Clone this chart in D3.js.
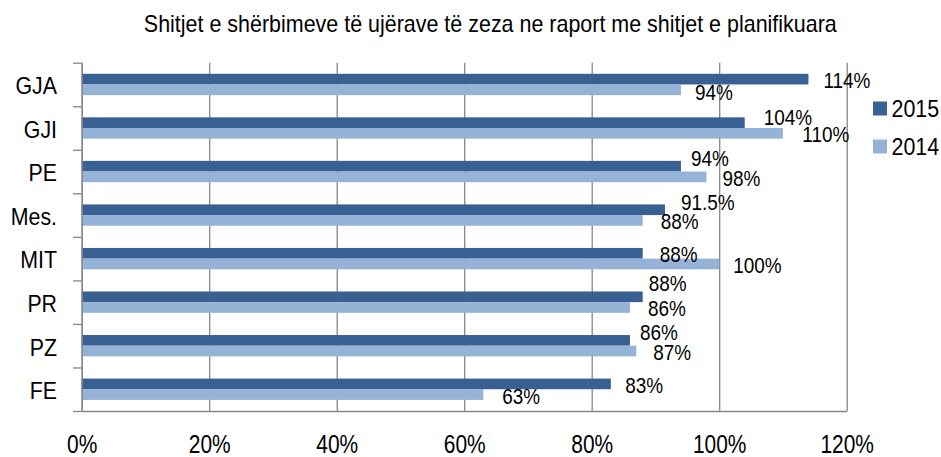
<!DOCTYPE html>
<html>
<head>
<meta charset="utf-8">
<script src="https://cdn.jsdelivr.net/npm/d3@7"></script>
<style>
  body { margin: 0; background: #fff; }
  text { font-family: "Liberation Sans", Arial, sans-serif; fill: #000; }
</style>
</head>
<body>
<div id="chart"></div>
<script>
// Chart data
const categories = ['GJA', 'GJI', 'PE', 'Mes.', 'MIT', 'PR', 'PZ', 'FE'];
const seriesNames = ['2015', '2014'];
const values2015 = [114, 104, 94, 91.5, 88, 88, 86, 83];
const values2014 = [94, 110, 98, 88, 100, 86, 87, 63];
const xTicks = [0, 20, 40, 60, 80, 100, 120];
const titleText = 'Shitjet e shërbimeve të ujërave të zeza ne raport me shitjet e planifikuara';

// hand placed label offsets (dx from bar end, dy from bar centre)
const labelOffsets2015 = [[15, 1], [19, -6], [10, -8], [16, -7.6], [17, 0.6], [6, -13.3], [10, -8], [14.5, 1.7]];
const labelOffsets2014 = [[14, 2.3], [19.4, 1], [16, 1], [18, 1], [14, 1.6], [18, 1], [17, 1], [19, 2]];

const colors = { '2015': '#386092', '2014': '#95B3D7' };
const gridColor = '#868686';

const width = 941, height = 457;
const plot = { left: 81.7, right: 846.7, top: 62.7, bottom: 411 };

// the source chart uses a narrow face, so squeeze text horizontally
function squeeze(sel, k) {
    sel.each(function() {
        const w = this.getComputedTextLength();
        d3.select(this).attr('textLength', w * k).attr('lengthAdjust', 'spacingAndGlyphs');
    });
}

const svg = d3.select('#chart').append('svg')
    .attr('width', width)
    .attr('height', height);

const x = d3.scaleLinear().domain([0, 120]).range([plot.left, plot.right]);
const y = d3.scaleBand().domain(categories).range([plot.top, plot.bottom])
    .paddingInner(0.51).paddingOuter(0.255);
const ySub = d3.scaleBand().domain(seriesNames).range([0, y.bandwidth()]);

// Title
svg.append('text')
    .attr('x', 490.3)
    .attr('y', 32.3)
    .attr('text-anchor', 'middle')
    .style('font-size', '24px')
    .text(titleText)
    .call(squeeze, 0.894);

// Vertical gridlines
svg.append('g')
    .attr('transform', `translate(0,${plot.bottom})`)
    .call(d3.axisBottom(x).tickValues(xTicks).tickSize(-(plot.bottom - plot.top)).tickFormat(''))
    .call(g => g.select('.domain').remove())
    .call(g => g.selectAll('line').attr('stroke', gridColor).attr('stroke-width', 1.3));

// Bars
const rows = categories.map((c, i) => ({ cat: c, i: i }));
const series = [
    { name: '2015', values: values2015, offsets: labelOffsets2015 },
    { name: '2014', values: values2014, offsets: labelOffsets2014 }
];

series.forEach(s => {
    svg.append('g').selectAll('rect')
        .data(rows)
        .join('rect')
        .attr('x', x(0))
        .attr('y', d => y(d.cat) + ySub(s.name))
        .attr('width', d => x(s.values[d.i]) - x(0))
        .attr('height', ySub.bandwidth())
        .attr('fill', colors[s.name]);
});

// Left axis: boundary ticks
const yIdx = d3.scaleLinear().domain([0, categories.length]).range([plot.top, plot.bottom]);
svg.append('g')
    .attr('transform', `translate(${plot.left},0)`)
    .call(d3.axisLeft(yIdx).tickValues(d3.range(categories.length + 1)).tickSize(8.7).tickSizeOuter(0).tickFormat(''))
    .call(g => g.select('.domain').attr('stroke', gridColor).attr('stroke-width', 1.3))
    .call(g => g.selectAll('line').attr('stroke', gridColor).attr('stroke-width', 1.3));

// Category labels
svg.append('g')
    .attr('transform', `translate(${plot.left},0)`)
    .call(d3.axisLeft(y).tickSize(0).tickPadding(24.7))
    .call(g => g.select('.domain').remove())
    .call(g => g.selectAll('text').attr('dy', '0.4em').style('font-size', '24.5px').attr('fill', '#000').call(squeeze, 0.87));

// Bottom axis line and labels
svg.append('g')
    .attr('transform', `translate(0,${plot.bottom})`)
    .call(d3.axisBottom(x).tickValues(xTicks).tickSize(0).tickPadding(24.2).tickFormat(d => d + '%'))
    .call(g => g.select('.domain').attr('stroke', gridColor).attr('stroke-width', 1.3))
    .call(g => g.selectAll('text').style('font-size', '25.5px').attr('fill', '#000').call(squeeze, 0.82));

// Data labels
series.forEach(s => {
    svg.append('g').selectAll('text')
        .data(rows)
        .join('text')
        .attr('x', d => x(s.values[d.i]) + s.offsets[d.i][0])
        .attr('y', d => y(d.cat) + ySub(s.name) + ySub.bandwidth() / 2 + s.offsets[d.i][1] + 7.9)
        .style('font-size', '22px')
        .text(d => s.values[d.i] + '%')
        .call(squeeze, 0.86);
});

// Legend
const legend = svg.append('g');
seriesNames.forEach((name, i) => {
    const ly = 101.5 + i * 38;
    legend.append('rect')
        .attr('x', 873).attr('y', ly)
        .attr('width', 14).attr('height', 14)
        .attr('fill', colors[name]);
    legend.append('text')
        .attr('x', 891.5).attr('y', ly + 15.3)
        .style('font-size', '23.5px')
        .text(name)
        .call(squeeze, 0.91);
});
</script>
</body>
</html>
